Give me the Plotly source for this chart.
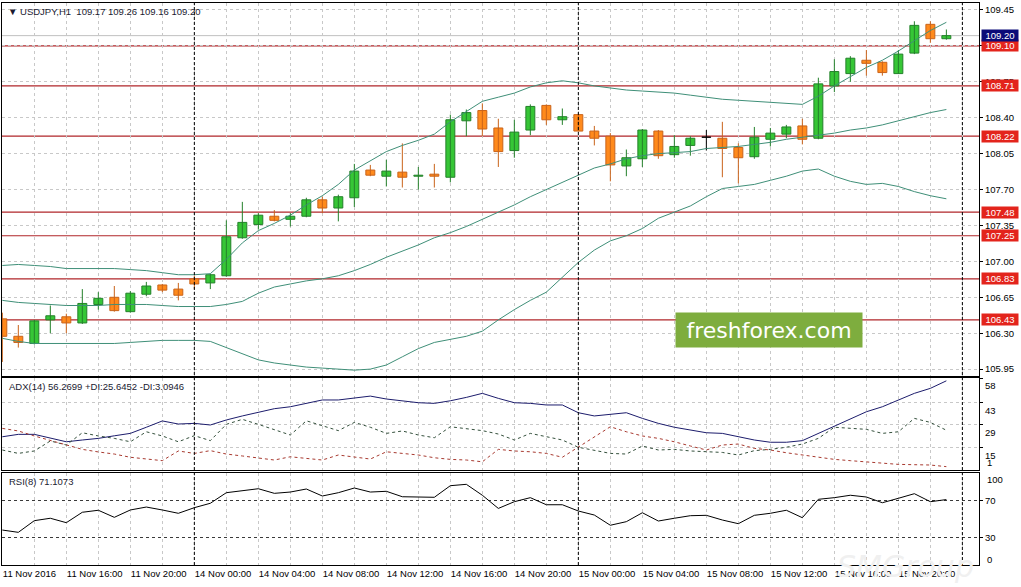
import plotly.graph_objects as go

# ---------------- data ----------------
bars = list(range(60))

opens = [106.44, 106.27, 106.20, 106.43, 106.46, 106.40, 106.58, 106.65, 106.51, 106.68,
         106.77, 106.73, 106.83, 106.79, 106.86, 107.23, 107.36, 107.44, 107.41, 107.44,
         107.60, 107.52, 107.62, 107.89, 107.83, 107.87, 107.83, 107.85, 107.82, 108.37,
         108.47, 108.30, 108.08, 108.28, 108.52, 108.38, 108.43, 108.27, 108.22, 107.93,
         108.00, 108.27, 108.04, 108.13, 108.21, 108.20, 108.11, 108.02, 108.19, 108.24,
         108.32, 108.20, 108.71, 108.83, 108.96, 108.94, 108.83, 109.03, 109.31, 109.17]
highs = [106.50, 106.38, 106.43, 106.57, 106.49, 106.73, 106.70, 106.76, 106.71, 106.80,
         106.78, 106.79, 106.86, 106.88, 107.40, 107.58, 107.47, 107.50, 107.47, 107.62,
         107.63, 107.65, 107.95, 107.94, 107.99, 108.15, 107.92, 107.95, 108.43, 108.48,
         108.54, 108.39, 108.38, 108.53, 108.53, 108.49, 108.44, 108.32, 108.25, 108.09,
         108.29, 108.28, 108.23, 108.22, 108.28, 108.36, 108.15, 108.31, 108.30, 108.33,
         108.39, 108.79, 108.97, 109.00, 109.06, 108.95, 109.06, 109.34, 109.34, 109.26]
lows = [106.02, 106.16, 106.19, 106.30, 106.30, 106.39, 106.53, 106.51, 106.50, 106.66,
        106.70, 106.62, 106.73, 106.73, 106.85, 107.22, 107.31, 107.39, 107.34, 107.43,
        107.47, 107.39, 107.53, 107.83, 107.73, 107.72, 107.70, 107.72, 107.77, 108.22,
        108.22, 107.92, 108.01, 108.23, 108.33, 108.33, 108.27, 108.13, 107.78, 107.83,
        107.92, 108.00, 108.01, 108.03, 108.08, 107.82, 107.76, 108.00, 108.12, 108.20,
        108.14, 108.19, 108.65, 108.75, 108.81, 108.81, 108.83, 109.02, 109.13, 109.16]
closes = [106.27, 106.21, 106.42, 106.47, 106.40, 106.59, 106.64, 106.52, 106.69, 106.76,
          106.72, 106.67, 106.78, 106.87, 107.24, 107.38, 107.45, 107.40, 107.44, 107.60,
          107.52, 107.63, 107.88, 107.84, 107.88, 107.82, 107.84, 107.83, 108.38, 108.45,
          108.29, 108.07, 108.26, 108.51, 108.38, 108.41, 108.27, 108.20, 107.94, 108.01,
          108.28, 108.03, 108.12, 108.20, 108.21, 108.10, 108.01, 108.21, 108.25, 108.31,
          108.19, 108.73, 108.85, 108.98, 108.93, 108.84, 109.02, 109.30, 109.17, 109.20]

bb_upper = [106.96, 106.97, 106.96, 106.95, 106.93, 106.93, 106.93, 106.93, 106.92, 106.91,
            106.89, 106.87, 106.87, 106.88, 107.02, 107.18, 107.30, 107.37, 107.45, 107.55,
            107.64, 107.75, 107.89, 107.98, 108.07, 108.13, 108.18, 108.24, 108.36, 108.46,
            108.56, 108.60, 108.64, 108.70, 108.74, 108.76, 108.74, 108.71, 108.69, 108.67,
            108.66, 108.65, 108.64, 108.62, 108.60, 108.58, 108.57, 108.56, 108.55, 108.54,
            108.53, 108.61, 108.71, 108.80, 108.89, 108.96, 109.05, 109.15, 109.25, 109.33]
bb_middle = [106.62, 106.60, 106.59, 106.58, 106.57, 106.57, 106.57, 106.58, 106.58, 106.58,
             106.57, 106.56, 106.56, 106.56, 106.58, 106.61, 106.69, 106.75, 106.78, 106.81,
             106.83, 106.86, 106.91, 106.97, 107.04, 107.10, 107.16, 107.23, 107.28, 107.34,
             107.41, 107.48, 107.55, 107.63, 107.70, 107.77, 107.84, 107.91, 107.95, 108.00,
             108.03, 108.05, 108.06, 108.07, 108.10, 108.11, 108.12, 108.14, 108.16, 108.19,
             108.21, 108.23, 108.25, 108.28, 108.30, 108.33, 108.37, 108.41, 108.45, 108.48]
bb_lower = [106.25, 106.22, 106.20, 106.20, 106.20, 106.20, 106.20, 106.20, 106.21, 106.22,
            106.23, 106.23, 106.23, 106.22, 106.16, 106.10, 106.04, 106.01, 105.99, 105.97,
            105.96, 105.95, 105.94, 105.95, 105.99, 106.07, 106.15, 106.21, 106.24, 106.27,
            106.32, 106.43, 106.53, 106.62, 106.70, 106.85, 106.99, 107.11, 107.20, 107.25,
            107.32, 107.42, 107.48, 107.54, 107.63, 107.71, 107.73, 107.75, 107.79, 107.83,
            107.88, 107.90, 107.83, 107.78, 107.75, 107.76, 107.73, 107.68, 107.64, 107.61]

adx = [21.6, 23.1, 23.1, 20.6, 18.5, 19.6, 20.6, 22.2, 23.7, 27.5,
       31.4, 29.5, 29.9, 28.9, 32.0, 34.5, 36.7, 39.0, 40.2, 42.3,
       44.4, 44.4, 45.4, 46.8, 45.0, 43.9, 42.7, 42.3, 43.9, 46.0,
       48.5, 45.4, 42.7, 42.3, 41.3, 41.3, 36.5, 34.5, 35.7, 36.5,
       33.0, 29.9, 27.5, 25.8, 24.1, 23.7, 21.6, 19.6, 18.2, 18.2,
       19.2, 23.7, 27.8, 32.4, 37.1, 40.2, 44.4, 48.5, 51.6, 56.27]
plus_di = [13.4, 11.3, 12.8, 19.0, 16.5, 24.1, 22.1, 20.6, 18.5, 24.7,
           22.1, 18.5, 22.3, 19.2, 29.3, 32.4, 29.3, 26.2, 22.7, 31.5,
           28.3, 25.4, 30.5, 27.5, 23.7, 25.2, 22.7, 21.0, 27.8, 26.8,
           25.4, 23.3, 19.6, 23.7, 21.6, 19.6, 15.1, 13.0, 11.3, 10.9,
           15.9, 13.4, 13.8, 12.8, 12.3, 11.9, 10.3, 13.0, 13.8, 15.1,
           17.1, 20.6, 27.5, 26.8, 26.2, 23.7, 24.7, 33.0, 30.5, 25.65]
minus_di = [26.8, 25.2, 22.1, 19.2, 16.5, 13.8, 12.2, 10.9, 8.9, 7.8,
            6.8, 12.8, 11.3, 13.0, 10.9, 9.7, 8.6, 7.2, 9.2, 8.2,
            7.2, 10.3, 9.2, 7.8, 12.3, 11.3, 10.3, 8.6, 7.6, 7.2,
            6.1, 13.8, 12.8, 12.3, 11.3, 8.9, 15.1, 21.6, 27.8, 24.7,
            22.1, 20.6, 18.5, 15.9, 13.4, 16.5, 17.1, 14.4, 13.4, 11.7,
            10.3, 8.9, 7.6, 6.8, 6.0, 5.3, 4.5, 4.3, 4.1, 3.09]
rsi = [38.0, 35.5, 48.2, 50.8, 46.0, 57.3, 59.5, 51.8, 59.8, 63.0,
       59.8, 56.2, 62.3, 67.1, 78.6, 80.8, 82.9, 77.9, 79.3, 82.6,
       75.0, 78.6, 83.7, 79.3, 80.1, 74.2, 74.2, 73.6, 86.2, 87.7,
       75.8, 61.5, 68.8, 73.2, 65.5, 65.5, 58.7, 54.3, 43.2, 47.1,
       56.8, 47.8, 50.8, 53.6, 54.0, 48.9, 44.9, 54.0, 56.2, 59.5,
       51.4, 71.4, 73.2, 75.8, 73.9, 67.7, 72.5, 77.5, 68.8, 71.1]

levels = [109.10, 108.71, 108.22, 107.48, 107.25, 106.83, 106.43]
bid_price = 109.20
price_ticks = [109.45, 109.10, 108.75, 108.40, 108.05, 107.70, 107.35, 107.00, 106.65, 106.30, 105.95]
adx_ticks = [58, 43, 29, 15]
rsi_ticks = [70, 30]
x_label_bars = [0, 4, 8, 12, 16, 20, 24, 28, 32, 36, 40, 44, 48, 52, 56]
x_labels = ["11 Nov 2016", "11 Nov 16:00", "11 Nov 20:00", "14 Nov 00:00", "14 Nov 04:00",
            "14 Nov 08:00", "14 Nov 12:00", "14 Nov 16:00", "14 Nov 20:00", "15 Nov 00:00",
            "15 Nov 04:00", "15 Nov 08:00", "15 Nov 12:00", "15 Nov 16:00", "15 Nov 20:00"]
separators = [12, 36, 60]

header_main = "\u25BC USDJPY,H1\u00a0\u00a0109.17 109.26 109.16 109.20"
header_adx = "ADX(14) 56.2699 +DI:25.6452 -DI:3.0946"
header_rsi = "RSI(8) 71.1073"

# ---------------- styles ----------------
BULL_FILL, BULL_EDGE = "#36C636", "#23802A"
BEAR_FILL, BEAR_EDGE = "#FF8A1C", "#C9631A"
DOJI = "#000000"
BB_COLOR = "#3F8F78"
LEVEL_COLOR = "#B0262A"
LABEL_RED = "#E3241C"
LABEL_NAVY = "#0B0B78"
GRID = "#C8C8C8"
FONT = "Liberation Sans, Arial, DejaVu Sans, sans-serif"

fig = go.Figure()

# wicks
def wicks(kind):
    xs, ys = [], []
    for i, o, h, l, c in zip(bars, opens, highs, lows, closes):
        k = "bull" if c > o else ("bear" if c < o else "doji")
        if k == kind:
            xs += [i, i, None]
            ys += [l, h, None]
    return xs, ys

for kind, col in (("bull", BULL_EDGE), ("bear", BEAR_EDGE), ("doji", DOJI)):
    wx, wy = wicks(kind)
    fig.add_trace(go.Scatter(x=wx, y=wy, mode="lines", line=dict(color=col, width=1),
                             xaxis="x", yaxis="y", hoverinfo="skip"))

# bodies
base = [min(o, c) for o, c in zip(opens, closes)]
length = [max(abs(c - o), 0.0012) for o, c in zip(opens, closes)]
fills = [BULL_FILL if c > o else (BEAR_FILL if c < o else DOJI) for o, c in zip(opens, closes)]
edges = [BULL_EDGE if c > o else (BEAR_EDGE if c < o else DOJI) for o, c in zip(opens, closes)]
fig.add_trace(go.Bar(x=bars, y=length, base=base, width=0.56,
                     marker=dict(color=fills, line=dict(color=edges, width=1)),
                     xaxis="x", yaxis="y", hoverinfo="skip"))

# Bollinger bands
for band in (bb_upper, bb_middle, bb_lower):
    fig.add_trace(go.Scatter(x=bars, y=band, mode="lines", line=dict(color=BB_COLOR, width=1),
                             xaxis="x", yaxis="y", hoverinfo="skip"))

# ADX panel
fig.add_trace(go.Scatter(x=bars, y=adx, mode="lines", line=dict(color="#1C1C6C", width=1),
                         xaxis="x2", yaxis="y2"))
fig.add_trace(go.Scatter(x=bars, y=plus_di, mode="lines",
                         line=dict(color="#34503C", width=1, dash="3px,3px"),
                         xaxis="x2", yaxis="y2"))
fig.add_trace(go.Scatter(x=bars, y=minus_di, mode="lines",
                         line=dict(color="#A83A30", width=1, dash="3px,3px"),
                         xaxis="x2", yaxis="y2"))

# RSI panel
fig.add_trace(go.Scatter(x=bars, y=rsi, mode="lines", line=dict(color="#000000", width=1),
                         xaxis="x3", yaxis="y3"))

# ---------------- axes ----------------
frame = dict(showline=True, linecolor="#000000", linewidth=1, mirror=True, zeroline=False,
             automargin=False, fixedrange=True)
grid = dict(showgrid=True, gridcolor=GRID, gridwidth=1, griddash="3px,3px")
xrange = [-0.02, 61.04]
grid_bars = list(range(0, 61, 2))
x3_text = [x_labels[x_label_bars.index(b)] if b in x_label_bars else "" for b in grid_bars]

fig.update_layout(
    width=1021, height=587, template="none",
    margin=dict(l=2, r=42, t=3, b=22, autoexpand=False),
    paper_bgcolor="white", plot_bgcolor="white",
    showlegend=False, barmode="overlay", hovermode=False,
    font=dict(family=FONT, size=9.5, color="#000000"),
    xaxis=dict(domain=[0, 1], anchor="y", range=xrange, tickvals=grid_bars,
               showticklabels=False, ticks="", **grid, **frame),
    xaxis2=dict(domain=[0, 1], anchor="y2", range=xrange, tickvals=grid_bars,
                showticklabels=False, ticks="", **grid, **frame),
    xaxis3=dict(domain=[0, 1], anchor="y3", range=xrange, tickvals=grid_bars,
                ticktext=x3_text, tickangle=0, ticklabelposition="outside right",
                ticks="", **grid, **frame),
    yaxis=dict(domain=[0.3363, 1.0], anchor="x", side="right", range=[105.883, 109.518],
               tickvals=price_ticks, ticktext=[f"{v:.2f}" for v in price_ticks],
               ticks="outside", ticklen=3, tickcolor="#000000", **grid, **frame),
    yaxis2=dict(domain=[0.1690, 0.3327], anchor="x2", side="right", range=[1, 58],
                tickvals=adx_ticks, ticktext=[str(v) for v in adx_ticks], ticklabelshift=8,
                ticks="outside", ticklen=3, tickcolor="#000000", **grid, **frame),
    yaxis3=dict(domain=[0, 0.1637], anchor="x3", side="right", range=[0, 100],
                tickvals=rsi_ticks, ticktext=[str(v) for v in rsi_ticks],
                ticks="outside", ticklen=3, tickcolor="#000000",
                showgrid=True, gridcolor="#3A3A3A", gridwidth=1, griddash="3px,3px", **frame),
)

# ---------------- shapes ----------------
shapes = []
for lv in levels:
    shapes.append(dict(type="line", xref="x", yref="y", x0=xrange[0], x1=xrange[1], y0=lv, y1=lv,
                       line=dict(color=LEVEL_COLOR, width=1.2), layer="below"))
shapes.append(dict(type="line", xref="x", yref="y", x0=xrange[0], x1=xrange[1],
                   y0=bid_price, y1=bid_price,
                   line=dict(color="#C0C0C0", width=1), layer="below"))
for s in separators:
    shapes.append(dict(type="line", xref="x", yref="paper", x0=s, x1=s, y0=0, y1=1,
                       line=dict(color="#000000", width=1, dash="3px,2px"), layer="above"))
fig.update_layout(shapes=shapes)

# ---------------- annotations ----------------
ann = []
def price_label(v, bg):
    return dict(text=f"{v:.2f}", xref="paper", yref="y", x=1, y=v, xanchor="left",
                yanchor="middle", xshift=1.5, showarrow=False, bgcolor=bg, width=36, height=11,
                borderpad=0, font=dict(family=FONT, size=9.5, color="#FFFFFF"))
for lv in levels:
    ann.append(price_label(lv, LABEL_RED))
ann.append(price_label(bid_price, LABEL_NAVY))

ann.append(dict(text="1", xref="paper", yref="y2", x=1, y=1, xanchor="left", yanchor="middle",
                xshift=6, yshift=8, showarrow=False, font=dict(family=FONT, size=9.5)))
ann.append(dict(text="100", xref="paper", yref="y3", x=1, y=100, xanchor="left", yanchor="middle",
                xshift=6, yshift=-6, showarrow=False, font=dict(family=FONT, size=9.5)))
ann.append(dict(text="0", xref="paper", yref="y3", x=1, y=0, xanchor="left", yanchor="middle",
                xshift=6, yshift=6, showarrow=False, font=dict(family=FONT, size=9.5)))

hdr_font = dict(family=FONT, size=9.5, color="#1A1A30")
ann.append(dict(text=header_main, xref="paper", yref="paper", x=0.0041, y=0.9845,
                xanchor="left", yanchor="middle", showarrow=False, font=hdr_font))
ann.append(dict(text=header_adx, xref="paper", yref="paper", x=0.0048, y=0.3173,
                xanchor="left", yanchor="middle", showarrow=False, font=hdr_font))
ann.append(dict(text=header_rsi, xref="paper", yref="paper", x=0.0048, y=0.1482,
                xanchor="left", yanchor="middle", showarrow=False, font=hdr_font))

ann.append(dict(text="freshforex.com", xref="paper", yref="paper", x=0.7851, y=0.4181,
                xanchor="center", yanchor="middle", showarrow=False, bgcolor="#7EAD3E",
                width=186, height=34, borderpad=0,
                font=dict(family="DejaVu Sans, sans-serif", size=22, color="#FFFFFF")))
ann.append(dict(text="SMGroup", xref="paper", yref="paper", x=0.9243, y=-0.002,
                xanchor="center", yanchor="middle", showarrow=False,
                font=dict(family="DejaVu Sans, sans-serif", size=30, color="#F0F0F0",
                          style="italic")))
fig.update_layout(annotations=ann)

fig.write_html(
    "out.html",
    config={"displayModeBar": False, "staticPlot": True},
    post_script="document.body.style.margin='0';document.body.style.padding='0';"
                "document.documentElement.style.overflow='hidden';",
)
